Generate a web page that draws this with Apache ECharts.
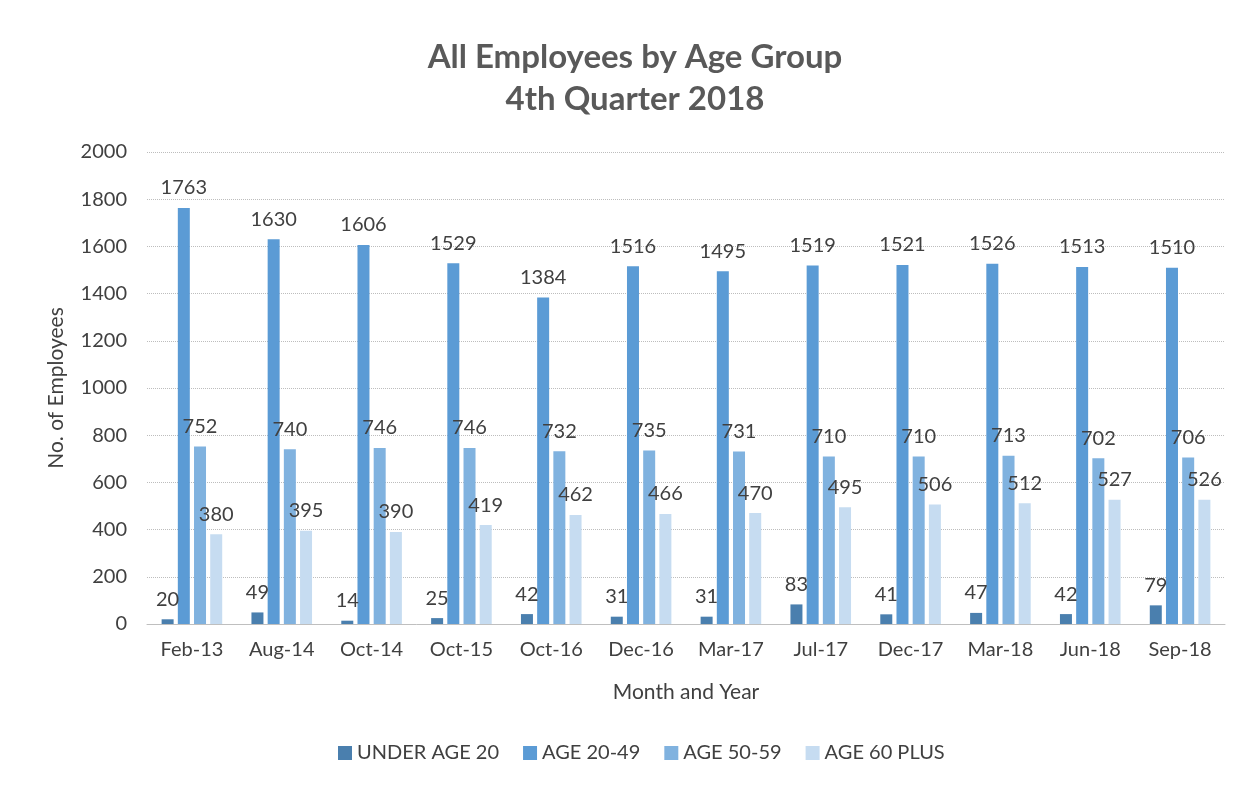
<!DOCTYPE html>
<html>
<head>
<meta charset="utf-8">
<script src="https://cdn.jsdelivr.net/npm/echarts@6/dist/echarts.min.js"></script>
<style>
  html, body { margin: 0; padding: 0; background: #fff; }
  #chart { width: 1241px; height: 790px; }
</style>
</head>
<body>
<div id="chart"></div>
<script>
// 类别与数据
const months = ['Feb-13', 'Aug-14', 'Oct-14', 'Oct-15', 'Oct-16', 'Dec-16', 'Mar-17', 'Jul-17', 'Dec-17', 'Mar-18', 'Jun-18', 'Sep-18'];
const under20 = [20, 49, 14, 25, 42, 31, 31, 83, 41, 47, 42, 79];
const age2049 = [1763, 1630, 1606, 1529, 1384, 1516, 1495, 1519, 1521, 1526, 1513, 1510];
const age5059 = [752, 740, 746, 746, 732, 735, 731, 710, 710, 713, 702, 706];
const age60plus = [380, 395, 390, 419, 462, 466, 470, 495, 506, 512, 527, 526];
const seriesNames = ['UNDER AGE 20', 'AGE 20-49', 'AGE 50-59', 'AGE 60 PLUS'];

const dom = document.getElementById('chart');
const myChart = echarts.init(dom);
const font = 'Lato, "Open Sans", sans-serif';
const colorArr = ['#4a7fae', '#5b9bd5', '#80b2df', '#c6dcf1'];

let seriesArr = [];
[under20, age2049, age5059, age60plus].forEach((val, index) => {
    seriesArr.push({
        name: seriesNames[index],
        type: 'bar',
        data: val,
        barWidth: 12,
        barGap: '35%',
        itemStyle: { color: colorArr[index] },
        label: {
            show: true,
            position: 'top',
            distance: 10,
            fontFamily: font,
            fontSize: 20,
            color: '#404040'
        }
    });
});

const option = {
    backgroundColor: '#fff',
    animation: false,
    title: {
        text: 'All Employees by Age Group\n4th Quarter 2018',
        left: 630,
        textAlign: 'center',
        top: 31,
        textStyle: {
            fontFamily: font,
            fontSize: 33,
            fontWeight: 'bold',
            color: '#595959',
            lineHeight: 42
        }
    },
    legend: {
        bottom: 22,
        left: 333,
        itemWidth: 14,
        itemHeight: 14,
        itemGap: 24,
        icon: 'rect',
        textStyle: { fontFamily: font, fontSize: 20, color: '#404040' },
        data: seriesNames
    },
    grid: {
        left: 147,
        right: 16,
        top: 152,
        bottom: 166
    },
    xAxis: {
        type: 'category',
        data: months,
        name: 'Month and Year',
        nameLocation: 'middle',
        nameGap: 58,
        nameTextStyle: { fontFamily: font, fontSize: 21, color: '#404040' },
        axisTick: { show: false },
        axisLine: { lineStyle: { color: '#bfbfbf' } },
        axisLabel: { fontFamily: font, fontSize: 20, color: '#404040', margin: 16 }
    },
    yAxis: {
        type: 'value',
        min: 0,
        max: 2000,
        interval: 200,
        name: 'No. of Employees',
        nameLocation: 'middle',
        nameGap: 80,
        nameTextStyle: { fontFamily: font, fontSize: 21, color: '#404040' },
        splitLine: { lineStyle: { type: 'dotted', color: '#bdbdbd' } },
        axisLine: { show: false },
        axisTick: { show: false },
        axisLabel: {
            fontFamily: font, fontSize: 20, color: '#404040', margin: 20,
            formatter: v => String(v)
        }
    },
    series: seriesArr
};

myChart.setOption(option);
</script>
</body>
</html>
